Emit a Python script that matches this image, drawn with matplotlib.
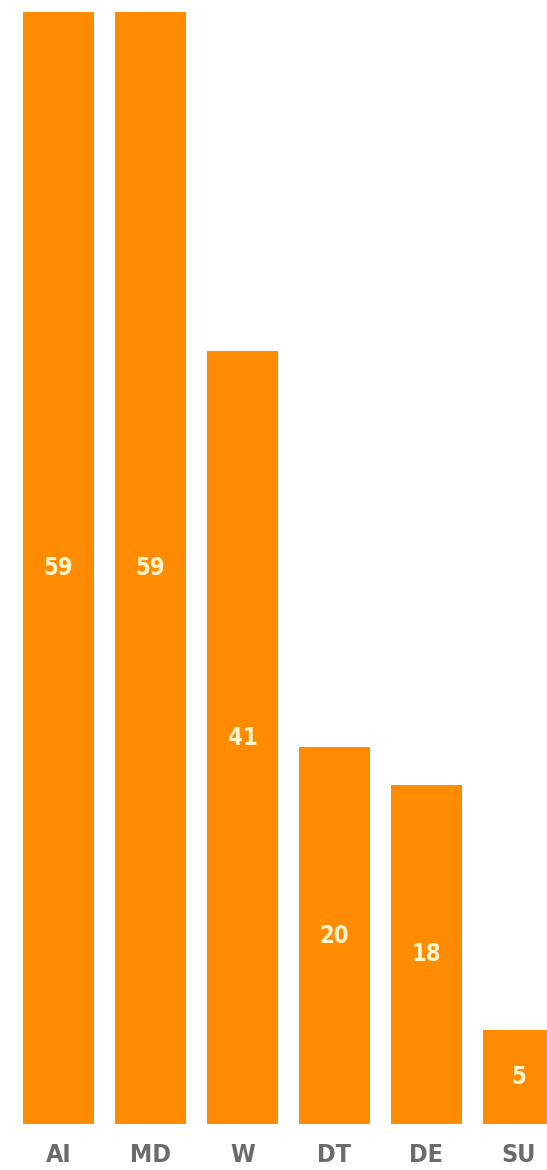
import matplotlib
matplotlib.use("Agg")
import matplotlib.pyplot as plt

categories = ["AI", "MD", "W", "DT", "DE", "SU"]
values = [59, 59, 41, 20, 18, 5]

fig = plt.figure(figsize=(5.47, 11.7), dpi=100)
ax = fig.add_axes([0, 46/1170, 1, 1112/1170])
x = list(range(len(categories)))
bars = ax.bar(x, values, width=0.77, color="#FF8C00")
ax.set_xlim(-0.636, 5.31)
ax.set_ylim(0, 59)
for xi, v in zip(x, values):
    ax.text(xi, v/2, str(v), ha="center", va="center", color="#FFF4CC",
            fontsize=17, fontweight="heavy", fontstretch="condensed", family="DejaVu Sans")
ax.set_xticks(x)
ax.set_xticklabels(categories, fontsize=18, fontweight="heavy", color="#6b6b6b",
                   fontstretch="condensed", family="DejaVu Sans")
ax.tick_params(axis="x", length=0, pad=14)
ax.set_yticks([])
for s in ax.spines.values():
    s.set_visible(False)
fig.savefig("out.png", dpi=100)
